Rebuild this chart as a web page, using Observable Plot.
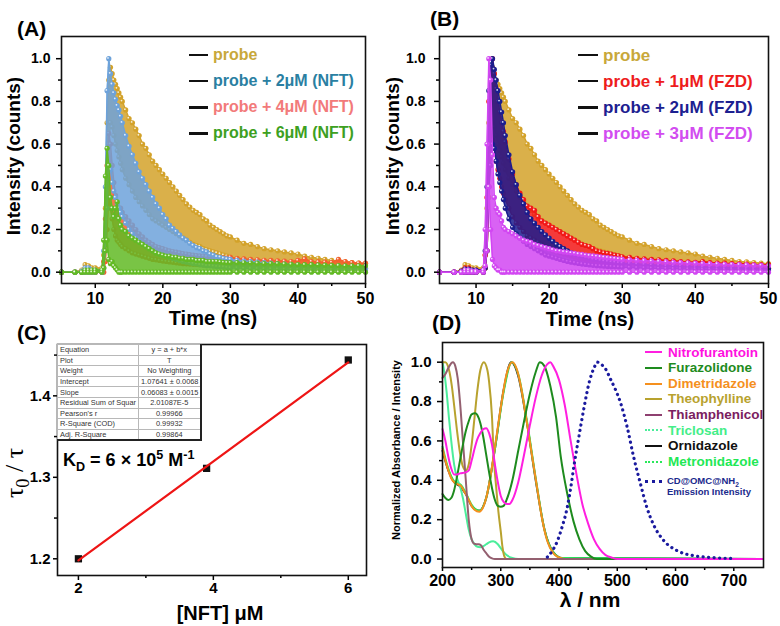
<!DOCTYPE html>
<html>
<head>
<meta charset="utf-8">
<script src="https://cdn.jsdelivr.net/npm/d3@7"></script>
<script src="https://cdn.jsdelivr.net/npm/@observablehq/plot@0.6"></script>
<style>
html,body{margin:0;padding:0;background:#fff;}
#root{position:relative;width:780px;height:626px;overflow:hidden;background:#fff;font-family:'Liberation Sans',Arial,sans-serif;}
#root sub,#root sup{font-size:70%;line-height:0;}
table.fit{border-collapse:collapse;font:7.4px 'Liberation Sans',Arial,sans-serif;color:#333;table-layout:fixed;}
table.fit td{border:1px solid #b8b8b8;height:9.6px;padding:0 2px;white-space:nowrap;overflow:hidden;line-height:9px;}
table.fit td.v{text-align:center;}
</style>
</head>
<body>
<div id="root"></div>
<script>
// ---------------- DATA ----------------
// Panel A/B: fluorescence decay (time grid shared), upper/lower edges of each noisy trace
const decayTime = [5,7,8,8.5,9,9.5,10,11,
  11.25,11.5,11.75,12,12.25,12.5,12.75,13,13.25,13.5,13.75,14,
  14.5,15,15.5,16,16.5,17,17.5,18,18.5,19,19.5,20,
  20.5,21,21.5,22,22.5,23,23.5,24,24.5,25,25.5,26,26.5,27,27.5,28,28.5,29,29.5,30,
  31,32,33,34,35,36,37,38,39,40,41,42,43,44,45,46,47,48,49,50];

const probeHi = [0,0,0.01,0.035,0.03,0.02,0.02,0.02,
  0.08,0.3,0.7,0.9,0.96,0.93,0.9,0.88,0.86,0.84,0.82,0.8,
  0.76,0.72,0.7,0.67,0.64,0.6,0.58,0.55,0.52,0.5,0.48,0.46,
  0.44,0.42,0.4,0.38,0.36,0.34,0.32,0.305,0.29,0.28,0.27,0.25,0.24,0.22,0.21,0.2,0.19,0.18,0.17,0.165,
  0.15,0.135,0.13,0.12,0.11,0.105,0.1,0.095,0.09,0.085,0.075,0.07,0.065,0.06,0.055,0.05,0.048,0.045,0.042,0.04];
const probeLo = [0,0,0,0.01,0.01,0,0,0,
  0.02,0.1,0.35,0.6,0.7,0.68,0.64,0.6,0.57,0.54,0.51,0.48,
  0.44,0.41,0.38,0.35,0.33,0.31,0.29,0.27,0.25,0.24,0.23,0.22,
  0.21,0.2,0.19,0.18,0.17,0.16,0.15,0.14,0.13,0.125,0.12,0.11,0.105,0.1,0.095,0.09,0.085,0.08,0.075,0.07,
  0.065,0.06,0.055,0.05,0.05,0.045,0.04,0.04,0.035,0.035,0.03,0.03,0.03,0.025,0.025,0.025,0.02,0.02,0.02,0.02];

const nft2Hi = [0,0,0.005,0.02,0.02,0.01,0.01,0.01,
  0.1,0.4,0.85,1.0,0.93,0.88,0.84,0.81,0.78,0.76,0.73,0.7,
  0.64,0.59,0.55,0.51,0.47,0.44,0.41,0.38,0.35,0.32,0.3,0.27,
  0.25,0.22,0.205,0.19,0.175,0.16,0.15,0.135,0.125,0.115,0.11,0.1,0.095,0.085,0.08,0.072,0.07,0.065,0.062,0.06,
  0.056,0.052,0.05,0.047,0.045,0.042,0.04,0.038,0.035,0.033,0.031,0.03,0.028,0.027,0.025,0.024,0.022,0.021,0.02,0.02];
const nft2Lo = [0,0,0,0,0,0,0,0,
  0.02,0.1,0.3,0.5,0.48,0.42,0.38,0.35,0.32,0.3,0.28,0.26,
  0.23,0.2,0.18,0.16,0.145,0.13,0.12,0.11,0.1,0.09,0.085,0.08,
  0.075,0.07,0.065,0.06,0.055,0.05,0.047,0.044,0.04,0.038,0.035,0.033,0.03,0.03,0.028,0.026,0.025,0.024,0.022,0.02,
  0.02,0.018,0.017,0.016,0.015,0.015,0.014,0.013,0.012,0.012,0.011,0.01,0.01,0.01,0.01,0.01,0.01,0.01,0.01,0.01];

const nft4Hi = [0,0,0,0.01,0.01,0,0,0,
  0.05,0.25,0.5,0.65,0.6,0.5,0.42,0.36,0.32,0.3,0.3,0.28,
  0.26,0.24,0.22,0.2,0.18,0.165,0.15,0.14,0.13,0.12,0.115,0.11,
  0.105,0.1,0.097,0.094,0.09,0.087,0.085,0.082,0.08,0.078,0.076,0.075,0.073,0.072,0.07,0.07,0.068,0.067,0.066,0.07,
  0.064,0.062,0.06,0.058,0.056,0.055,0.053,0.052,0.05,0.055,0.062,0.05,0.048,0.047,0.046,0.06,0.05,0.045,0.043,0.042];
const nft4Lo = [0,0,0,0,0,0,0,0,
  0,0.05,0.2,0.35,0.3,0.25,0.2,0.17,0.15,0.14,0.13,0.12,
  0.11,0.1,0.09,0.085,0.08,0.075,0.07,0.065,0.06,0.058,0.055,0.052,
  0.05,0.048,0.046,0.044,0.042,0.04,0.039,0.038,0.037,0.036,0.035,0.034,0.033,0.032,0.031,0.03,0.03,0.03,0.029,0.028,
  0.028,0.027,0.026,0.025,0.025,0.024,0.023,0.023,0.022,0.022,0.021,0.021,0.02,0.02,0.02,0.02,0.02,0.019,0.019,0.018];

const nft6Hi = [0,0,0,0.01,0.01,0.01,0.01,0.01,
  0.15,0.45,0.58,0.5,0.35,0.3,0.26,0.3,0.33,0.25,0.22,0.2,
  0.19,0.17,0.16,0.15,0.14,0.13,0.12,0.11,0.1,0.09,0.085,0.08,
  0.075,0.075,0.07,0.07,0.065,0.065,0.06,0.06,0.06,0.055,0.055,0.055,0.05,0.05,0.05,0.05,0.048,0.046,0.045,0.045,
  0.045,0.044,0.043,0.042,0.04,0.04,0.04,0.038,0.037,0.036,0.035,0.035,0.034,0.033,0.032,0.031,0.03,0.03,0.03,0.03];
const nft6Lo = [0,0,0,0,0,0,0,0,
  0.02,0.1,0.15,0.06,0.04,0.05,0.03,0.02,0.01,0,0,0,
  0,0,0,0,0,0,0,0,0,0,0,0,
  0,0,0,0,0,0,0,0,0,0,0,0,0,0,0,0,0,0,0,0,
  0,0,0,0,0,0,0,0,0,0,0,0,0,0,0,0,0,0,0,0];

const fzd1Hi = [0,0,0.005,0.02,0.02,0.01,0.01,0.01,
  0.08,0.35,0.8,0.95,1.0,0.93,0.86,0.8,0.75,0.7,0.66,0.61,
  0.53,0.46,0.41,0.37,0.34,0.31,0.3,0.29,0.26,0.24,0.23,0.22,
  0.21,0.2,0.19,0.18,0.17,0.16,0.15,0.14,0.13,0.125,0.12,0.11,0.1,0.095,0.09,0.088,0.085,0.08,0.077,0.072,
  0.07,0.065,0.062,0.06,0.058,0.055,0.053,0.05,0.048,0.046,0.05,0.045,0.043,0.042,0.04,0.039,0.038,0.036,0.035,0.035];
const fzd1Lo = [0,0,0,0,0,0,0,0,
  0.02,0.1,0.4,0.6,0.62,0.58,0.52,0.48,0.44,0.4,0.37,0.34,
  0.3,0.26,0.23,0.21,0.19,0.17,0.16,0.15,0.14,0.13,0.12,0.11,
  0.1,0.095,0.09,0.085,0.08,0.075,0.07,0.066,0.062,0.058,0.055,0.052,0.05,0.048,0.046,0.044,0.042,0.04,0.039,0.038,
  0.036,0.034,0.033,0.032,0.03,0.029,0.028,0.027,0.026,0.025,0.024,0.023,0.022,0.021,0.02,0.02,0.02,0.019,0.018,0.018];

const fzd2Hi = [0,0,0.005,0.015,0.015,0.01,0.01,0.01,
  0.1,0.4,0.85,0.97,1.0,0.95,0.9,0.85,0.8,0.75,0.7,0.64,
  0.55,0.47,0.41,0.36,0.32,0.28,0.25,0.23,0.21,0.19,0.175,0.16,
  0.145,0.13,0.12,0.11,0.1,0.09,0.085,0.08,0.075,0.07,0.065,0.06,0.058,0.055,0.052,0.05,0.048,0.046,0.044,0.042,
  0.04,0.038,0.036,0.034,0.032,0.03,0.029,0.028,0.027,0.026,0.025,0.024,0.023,0.022,0.021,0.02,0.019,0.018,0.017,0.016];
const fzd2Lo = [0,0,0,0,0,0,0,0,
  0.02,0.1,0.4,0.5,0.6,0.58,0.52,0.46,0.42,0.38,0.34,0.3,
  0.25,0.21,0.18,0.16,0.145,0.13,0.12,0.11,0.1,0.09,0.08,0.075,
  0.07,0.065,0.06,0.055,0.05,0.047,0.044,0.041,0.038,0.036,0.034,0.032,0.03,0.029,0.028,0.027,0.026,0.025,0.024,0.023,
  0.022,0.021,0.02,0.019,0.018,0.017,0.016,0.016,0.015,0.015,0.014,0.014,0.013,0.013,0.012,0.012,0.011,0.011,0.01,0.01];

const fzd3Hi = [0,0,0,0.01,0.01,0.005,0.005,0.01,
  0.2,0.6,1.0,0.9,0.55,0.35,0.3,0.28,0.27,0.24,0.21,0.2,
  0.19,0.18,0.17,0.16,0.15,0.145,0.14,0.13,0.125,0.12,0.115,0.11,
  0.105,0.1,0.098,0.095,0.093,0.09,0.088,0.085,0.083,0.08,0.078,0.076,0.074,0.072,0.07,0.068,0.066,0.064,0.062,0.06,
  0.058,0.056,0.054,0.052,0.05,0.048,0.046,0.045,0.044,0.042,0.04,0.039,0.038,0.037,0.036,0.035,0.034,0.033,0.032,0.03];
const fzd3Lo = [0,0,0,0,0,0,0,0,
  0.03,0.1,0.4,0.2,0.06,0.03,0.02,0.01,0.01,0,0,0,
  0,0,0,0,0,0,0,0,0,0,0,0,
  0,0,0,0,0,0,0,0,0,0,0,0,0,0,0,0,0,0,0,0,
  0,0,0,0,0,0,0,0,0,0,0,0,0,0,0,0,0,0,0,0];

const legendA = ["probe", "probe + 2μM (NFT)", "probe + 4μM (NFT)", "probe + 6μM (NFT)"];
const legendB = ["probe", "probe + 1μM (FZD)", "probe + 2μM (FZD)", "probe + 3μM (FZD)"];

// Panel C: Stern-Volmer lifetime plot
const nftConc = [2, 3.9, 6];
const tauRatio = [1.2, 1.311, 1.444];
const fitConc = [2, 6];
const fitRatio = [1.198, 1.441];
const fitTableKeys = ["Equation","Plot","Weight","Intercept","Slope","Residual Sum of Squar","Pearson's r","R-Square (COD)","Adj. R-Square"];
const fitTableVals = ["y = a + b*x","T","No Weighting","1.07641 ± 0.0068","0.06083 ± 0.0015","2.01087E-5","0.99966","0.99932","0.99864"];

// Panel D: normalized absorbance spectra + emission
const nitroWl  = [200,205,210,215,220,225,230,240,245,250,255,260,265,270,275,280,285,290,295,300,305,310,315,320,330,340,350,360,370,380,385,390,400,410,420,430,440,450,460,470,480,490,500,750];
const nitroAbs = [0.66,0.6,0.52,0.46,0.43,0.43,0.435,0.44,0.45,0.5,0.56,0.61,0.64,0.66,0.665,0.64,0.58,0.48,0.39,0.32,0.29,0.28,0.28,0.3,0.39,0.53,0.68,0.82,0.93,0.99,1.0,0.98,0.91,0.78,0.6,0.43,0.28,0.18,0.1,0.05,0.02,0.008,0,0];
const furaWl  = [200,205,210,215,220,225,230,235,240,245,250,256,260,265,270,275,280,285,290,295,300,305,310,320,330,340,350,360,367,375,385,395,403,415,425,435,445,455,465,750];
const furaAbs = [0.33,0.31,0.3,0.31,0.35,0.42,0.5,0.58,0.65,0.7,0.735,0.74,0.73,0.69,0.62,0.53,0.44,0.36,0.3,0.27,0.265,0.27,0.3,0.4,0.55,0.7,0.84,0.95,1.0,0.98,0.88,0.72,0.52,0.32,0.19,0.1,0.04,0.012,0,0];
const dimeWl  = [200,205,210,215,220,226,232,236,240,245,250,255,263,270,275,280,290,300,310,320,328,335,345,355,363,370,380,390,400,410,750];
const dimeAbs = [0.56,0.5,0.45,0.41,0.39,0.38,0.37,0.35,0.33,0.3,0.27,0.25,0.24,0.265,0.31,0.38,0.57,0.77,0.94,1.0,0.96,0.87,0.69,0.5,0.35,0.22,0.09,0.03,0.008,0,0];
const theoWl  = [200,205,208,212,216,220,225,230,235,240,245,250,255,260,265,271,277,280,285,288,292,296,300,303,306,310,750];
const theoAbs = [1.0,1.0,0.99,0.95,0.88,0.78,0.65,0.54,0.47,0.45,0.48,0.58,0.72,0.86,0.96,1.0,0.96,0.9,0.72,0.52,0.37,0.24,0.14,0.06,0.015,0,0];
const thiaWl  = [200,205,210,215,218,222,226,230,235,240,245,250,254,258,262,266,270,275,280,285,290,750];
const thiaAbs = [0.92,0.94,0.97,0.995,1.0,0.98,0.92,0.8,0.6,0.4,0.2,0.1,0.078,0.075,0.075,0.07,0.05,0.03,0.012,0.003,0,0];
const tricWl  = [200,203,207,211,215,220,225,230,235,240,245,250,255,260,265,270,275,280,287,295,300,305,310,320,330,750];
const tricAbs = [1.0,0.95,0.85,0.72,0.6,0.48,0.41,0.37,0.31,0.23,0.15,0.1,0.075,0.062,0.06,0.065,0.075,0.085,0.09,0.075,0.055,0.035,0.02,0.005,0,0];
const ornidWl  = [200,210,220,230,240,250,263,275,290,305,318,330,345,360,375,390,405,750];
const ornidAbs = [0.55,0.45,0.39,0.37,0.33,0.27,0.245,0.31,0.56,0.86,1.0,0.93,0.69,0.4,0.15,0.035,0.005,0];
const metroWl  = [200,205,210,215,220,226,232,240,250,263,275,290,305,319,330,345,360,375,390,405,750];
const metroAbs = [0.57,0.51,0.46,0.42,0.395,0.385,0.375,0.335,0.275,0.245,0.31,0.56,0.85,1.0,0.94,0.7,0.41,0.15,0.035,0.005,0];
const emisWl  = [380,388,397,405,414,420,426,434,443,452,460,466,472,480,489,497,506,517,528,540,551,563,580,603,631,660,695];
const emisInt = [0.01,0.04,0.09,0.16,0.26,0.36,0.48,0.62,0.77,0.9,0.97,1.0,0.99,0.965,0.91,0.86,0.79,0.67,0.52,0.38,0.26,0.17,0.093,0.042,0.017,0.008,0.003];
const legendD = ["Nitrofurantoin","Furazolidone","Dimetridazole","Theophylline","Thiamphenicol","Triclosan","Ornidazole","Metronidazole"];

// tick values
const ticksTime = [10,20,30,40,50], minorTime = [15,25,35,45];
const ticksInt = [0,0.2,0.4,0.6,0.8,1.0], minorInt = [0.1,0.3,0.5,0.7,0.9];
const ticksConc = [2,4,6], minorConc = [3,5];
const ticksRatio = [1.2,1.3,1.4], minorRatio = [1.25,1.35,1.45];
const ticksWl = [200,300,400,500,600,700], minorWl = [250,350,450,550,650];

// ---------------- RENDER ----------------
const FONT = "'Liberation Sans', Arial, Helvetica, sans-serif";
const root = document.getElementById("root");
const C = {
  gold:"#D3A22A", blueA:"#6DA2DA", redA:"#F2602E", greenA:"#62BA24",
  redB:"#F21818", navy:"#1B1D8E", mag:"#D247F2"
};
const baseStyle = {background:"none", overflow:"visible", fontFamily:FONT, fontWeight:"bold", color:"#000"};

function el(tag, css, html) {
  const e = document.createElement(tag);
  e.style.cssText = css;
  if (html != null) e.innerHTML = html;
  root.appendChild(e);
  return e;
}
function mount(svg, left, top, w) {
  const d = el("div", `position:absolute;left:${left}px;top:${top}px;width:${w}px;`);
  d.appendChild(svg);
}
function txt(html, x, y, size, o = {}) {
  const tx = o.anchor === "start" ? "0" : o.anchor === "end" ? "-100%" : "-50%";
  const rot = o.rotate ? " rotate(-90deg)" : "";
  el("div", `position:absolute;left:${x}px;top:${y}px;transform:translate(${tx},-50%)${rot};font-weight:${o.weight || "bold"};font-size:${size}px;font-family:${o.family || FONT};color:${o.color || "#000"};white-space:nowrap;line-height:1;`, html);
}

function band(hi, lo, color) {
  const rows = decayTime.map((t, i) => ({t, hi: hi[i], lo: lo[i]}));
  const edges = rows.flatMap(d => [{t: d.t, v: d.hi}, {t: d.t, v: d.lo}]);
  return [
    Plot.areaY(rows, {x: "t", y1: "lo", y2: "hi", fill: color, fillOpacity: 0.85}),
    Plot.line(rows, {x: "t", y: "hi", stroke: color, strokeWidth: 1.5}),
    Plot.line(rows, {x: "t", y: "lo", stroke: color, strokeWidth: 1.5}),
    Plot.dot(edges, {x: "t", y: "v", r: 2.6, fill: color}),
    Plot.dot(edges, {x: "t", y: "v", r: 0.9, fill: "white", fillOpacity: 0.8, dx: -0.8, dy: -0.8})
  ];
}
function timeAxes(padY) {
  return [
    Plot.axisX({ticks: ticksTime, tickFormat: "d", tickSize: 5, tickPadding: 4, fontSize: 16, label: null, strokeWidth: 1.5}),
    Plot.axisX({ticks: minorTime, tickSize: 3, tickFormat: () => "", label: null, strokeWidth: 1.5}),
    Plot.axisY({ticks: ticksInt, tickFormat: ".1f", tickSize: 5, tickPadding: padY, fontSize: 14, label: null, strokeWidth: 1.5}),
    Plot.axisY({ticks: minorInt, tickSize: 3, tickFormat: () => "", label: null, strokeWidth: 1.5}),
    Plot.frame({stroke: "#111", strokeWidth: 1.6})
  ];
}

// Panel A
const plotA = Plot.plot({
  width: 390, height: 310, marginLeft: 61, marginRight: 25, marginTop: 36, marginBottom: 27,
  x: {domain: [5, 50]}, y: {domain: [-0.053, 1.104]}, style: baseStyle,
  marks: [
    ...band(probeHi, probeLo, C.gold),
    ...band(nft4Hi, nft4Lo, C.redA),
    ...band(nft2Hi, nft2Lo, C.blueA),
    ...band(nft6Hi, nft6Lo, C.greenA),
    ...timeAxes(6)
  ]
});
mount(plotA, 0, 0, 390);

// Panel B
const plotB = Plot.plot({
  width: 390, height: 310, marginLeft: 49, marginRight: 12, marginTop: 36, marginBottom: 27,
  x: {domain: [5, 50]}, y: {domain: [-0.053, 1.104]}, style: baseStyle,
  marks: [
    ...band(probeHi, probeLo, C.gold),
    ...band(fzd1Hi, fzd1Lo, C.redB),
    ...band(fzd2Hi, fzd2Lo, C.navy),
    ...band(fzd3Hi, fzd3Lo, C.mag),
    ...timeAxes(9)
  ]
});
mount(plotB, 390, 0, 390);

// Panel C
const pts = nftConc.map((x, i) => ({x, y: tauRatio[i]}));
const fit = fitConc.map((x, i) => ({x, y: fitRatio[i]}));
const plotC = Plot.plot({
  width: 390, height: 316, marginLeft: 57, marginRight: 24, marginTop: 34, marginBottom: 51,
  x: {domain: [1.69, 6.27]}, y: {domain: [1.1795, 1.463]}, style: baseStyle,
  marks: [
    Plot.dot(pts, {x: "x", y: "y", symbol: "square", r: 4.1, fill: "#111"}),
    Plot.line(fit, {x: "x", y: "y", stroke: "#EE1515", strokeWidth: 2.2}),
    Plot.axisX({ticks: ticksConc, tickFormat: "d", tickSize: 5, tickPadding: 2, fontSize: 15, label: null, strokeWidth: 1.5}),
    Plot.axisX({ticks: minorConc, tickSize: 3, tickFormat: () => "", label: null, strokeWidth: 1.5}),
    Plot.axisY({ticks: ticksRatio, tickFormat: ".1f", tickSize: 4, tickPadding: 3, fontSize: 15, label: null, strokeWidth: 1.5}),
    Plot.axisY({ticks: minorRatio, tickSize: 3, tickFormat: () => "", label: null, strokeWidth: 1.5}),
    Plot.frame({stroke: "#111", strokeWidth: 1.6})
  ]
});
mount(plotC, 0, 310, 390);

// Panel D
const specs = [
  [ornidWl, ornidAbs, "#222222"],
  [metroWl, metroAbs, "#2AE85A"],
  [tricWl, tricAbs, "#4BEE9B"],
  [dimeWl, dimeAbs, "#F5901E"],
  [theoWl, theoAbs, "#B8A22E"],
  [thiaWl, thiaAbs, "#946070"],
  [furaWl, furaAbs, "#1E8B1E"],
  [nitroWl, nitroAbs, "#FF1FE0"]
];
const emis = emisWl.map((w, i) => ({w, v: emisInt[i]}));
const plotD = Plot.plot({
  width: 390, height: 316, marginLeft: 52, marginRight: 17, marginTop: 32, marginBottom: 59,
  x: {domain: [200, 751]}, y: {domain: [-0.043, 1.1]}, style: baseStyle,
  marks: [
    ...specs.map(([wl, ab, col]) => Plot.line(wl.map((w, i) => ({w, v: ab[i]})), {x: "w", y: "v", stroke: col, strokeWidth: 2, curve: "monotone-x"})),
    Plot.line(emis, {x: "w", y: "v", stroke: "#1A1A9E", strokeWidth: 3.2, strokeDasharray: "0.1,5.4", strokeLinecap: "round", curve: "monotone-x"}),
    Plot.axisX({ticks: ticksWl, tickFormat: "d", tickSize: 4, tickPadding: 3, fontSize: 16, label: null, strokeWidth: 1.5}),
    Plot.axisX({ticks: minorWl, tickSize: 3, tickFormat: () => "", label: null, strokeWidth: 1.5}),
    Plot.axisY({ticks: ticksInt, tickFormat: ".1f", tickSize: 5, tickPadding: 6, fontSize: 15, label: null, strokeWidth: 1.5}),
    Plot.axisY({ticks: minorInt, tickSize: 3, tickFormat: () => "", label: null, strokeWidth: 1.5}),
    Plot.frame({stroke: "#111", strokeWidth: 1.6})
  ]
});
mount(plotD, 390, 310, 390);

// ---------- text, legends ----------
// panel letters
txt("(A)", 17, 28, 21, {anchor: "start"});
txt("(B)", 430, 18, 21, {anchor: "start"});
txt("(C)", 17, 332, 21, {anchor: "start"});
txt("(D)", 432, 322, 21, {anchor: "start"});

// axis titles
txt("Intensity (counts)", 12.5, 156, 19, {rotate: true});
txt("Intensity (counts)", 392, 156, 19, {rotate: true});
txt("Time (ns)", 213, 318, 20);
txt("Time (ns)", 590, 319, 20);
txt("τ<sub>0</sub> / τ", 15, 473, 26, {rotate: true, weight: "normal", family: "'Liberation Serif','Times New Roman',serif"});
txt("[NFT] μM", 220, 613, 20);
txt("Normalized Absorbance / Intensity", 396, 450, 11, {rotate: true});
txt("λ / nm", 590, 599, 21);

// legend A / B
const legRowsY = [55, 81, 107.3, 133.3];
const colA = ["#C8A83A", "#2A7FA2", "#F27A7A", "#3DA021"];
const colB = ["#C8A83A", "#EE1C1C", "#1C2090", "#D24CF0"];
legendA.forEach((s, i) => {
  el("div", `position:absolute;left:189px;top:${legRowsY[i] - 1.3}px;width:19px;height:2.6px;background:#111;`);
  txt(s, 213, legRowsY[i], 16, {anchor: "start", color: colA[i]});
});
legendB.forEach((s, i) => {
  el("div", `position:absolute;left:578px;top:${legRowsY[i] - 1.3}px;width:20px;height:2.6px;background:#111;`);
  txt(s, 603, legRowsY[i], 17, {anchor: "start", color: colB[i]});
});

// legend D
const legDY = [352.5, 368.1, 383.7, 399.3, 414.9, 430.5, 446.1, 461.7];
const legDText = ["#FF10E0", "#1E8B1E", "#F5901E", "#B8A22E", "#7A2060", "#44EE88", "#111111", "#22E855"];
const legDLine = ["2.2px solid #FF1FE0", "2.2px solid #1E8B1E", "2.2px solid #F5901E", "2.2px solid #B8A22E", "2.2px solid #8E4070", "2px dotted #4BEE9B", "2.2px solid #111", "2px dotted #2AE85A"];
legendD.forEach((s, i) => {
  el("div", `position:absolute;left:645px;top:${legDY[i] - 1.1}px;width:17px;height:0;border-top:${legDLine[i]};`);
  txt(s, 668, legDY[i], 13.5, {anchor: "start", color: legDText[i]});
});
el("div", `position:absolute;left:645px;top:480px;width:17px;height:0;border-top:3px dotted #1A1A9E;`);
txt("CD@OMC@NH<sub>2</sub>", 667, 480.5, 9.5, {anchor: "start", color: "#1A2A8C"});
txt("Emission Intensity", 667, 492, 9.5, {anchor: "start", color: "#1A2A8C"});

// Panel C: fit table + K_D
const tbl = el("table", "position:absolute;left:57px;top:344px;width:143px;border-right:2px solid #222;border-bottom:2px solid #222;background:#fff;");
tbl.className = "fit";
const cg = document.createElement("colgroup");
cg.innerHTML = '<col style="width:81px"><col style="width:62px">';
tbl.appendChild(cg);
fitTableKeys.forEach((k, i) => {
  const tr = document.createElement("tr");
  tr.innerHTML = `<td>${k}</td><td class="v">${fitTableVals[i]}</td>`;
  tbl.appendChild(tr);
});
txt("K<sub>D</sub> = 6 × 10<sup>5</sup> M<sup>-1</sup>", 63, 460, 18, {anchor: "start"});
</script>
</body>
</html>
